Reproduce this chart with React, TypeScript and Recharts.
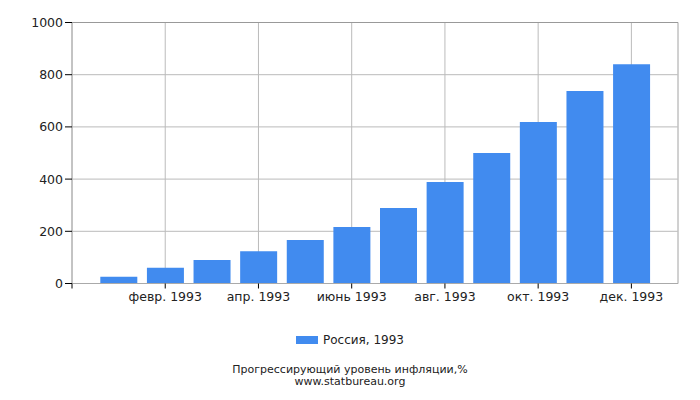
import React from "react";
import {
  BarChart, Bar, XAxis, YAxis, CartesianGrid, Legend, ReferenceLine,
} from "recharts";

// Прогрессирующий уровень инфляции, Россия 1993 (%)
const months = [1, 2, 3, 4, 5, 6, 7, 8, 9, 10, 11, 12];
const values = [25.8, 60, 90, 124, 167, 216, 289, 389, 500, 619, 738, 840];
const monthLabels: Record<number, string> = {
  2: "февр. 1993",
  4: "апр. 1993",
  6: "июнь 1993",
  8: "авг. 1993",
  10: "окт. 1993",
  12: "дек. 1993",
};
const xTicks = [0, 2, 4, 6, 8, 10, 12];
const yTicks = [0, 200, 400, 600, 800, 1000];
const seriesName = "Россия, 1993";

const data = months.map((m, i) => ({ m, value: values[i] }));

const font = "'DejaVu Sans', sans-serif";

function LegendContent() {
  return (
    <div style={{ display: "flex", justifyContent: "center", alignItems: "center", fontFamily: font, fontSize: 12, color: "#222" }}>
      <span style={{ display: "inline-block", width: 22, height: 8, background: "#418bef", marginRight: 5 }} />
      <span>{seriesName}</span>
    </div>
  );
}

export default function App() {
  return (
    <div style={{ position: "absolute", left: 0, top: 0, width: 700, height: 400, fontFamily: font }}>
      <BarChart
        width={700}
        height={400}
        data={data}
        margin={{ top: 22.5, right: 22, bottom: 86.5, left: 0 }}
      >
        <CartesianGrid stroke="#bbbbbb" />
        <XAxis
          dataKey="m"
          type="number"
          domain={[0, 13]}
          ticks={xTicks}
          tickFormatter={(v) => monthLabels[v] ?? ""}
          height={30}
          tickSize={5}
          tickMargin={4}
          tickLine={{ stroke: "#000" }}
          axisLine={{ stroke: "#aaaaaa" }}
          tick={{ fill: "#222", fontSize: 12.5, fontFamily: font }}
          interval={0}
        />
        <YAxis
          domain={[0, 1000]}
          ticks={yTicks}
          width={72}
          tickSize={7}
          tickMargin={2}
          tickLine={{ stroke: "#000" }}
          axisLine={{ stroke: "#aaaaaa" }}
          tick={{ fill: "#222", fontSize: 12.5, fontFamily: font }}
          interval={0}
        />
        <ReferenceLine x={13} stroke="#c4c4c4" />
        <ReferenceLine y={1000} stroke="#999999" />
        <Bar dataKey="value" name={seriesName} fill="#418bef" barSize={37} isAnimationActive={false} />
        <Legend
          verticalAlign="middle"
          content={<LegendContent />}
          wrapperStyle={{ top: 333, left: 0, width: 700 }}
        />
      </BarChart>
      <div style={{ position: "absolute", top: 364, left: 0, width: 700, textAlign: "center", fontSize: 11, lineHeight: "12px", color: "#222" }}>
        <div>Прогрессирующий уровень инфляции,%</div>
        <div>www.statbureau.org</div>
      </div>
    </div>
  );
}
